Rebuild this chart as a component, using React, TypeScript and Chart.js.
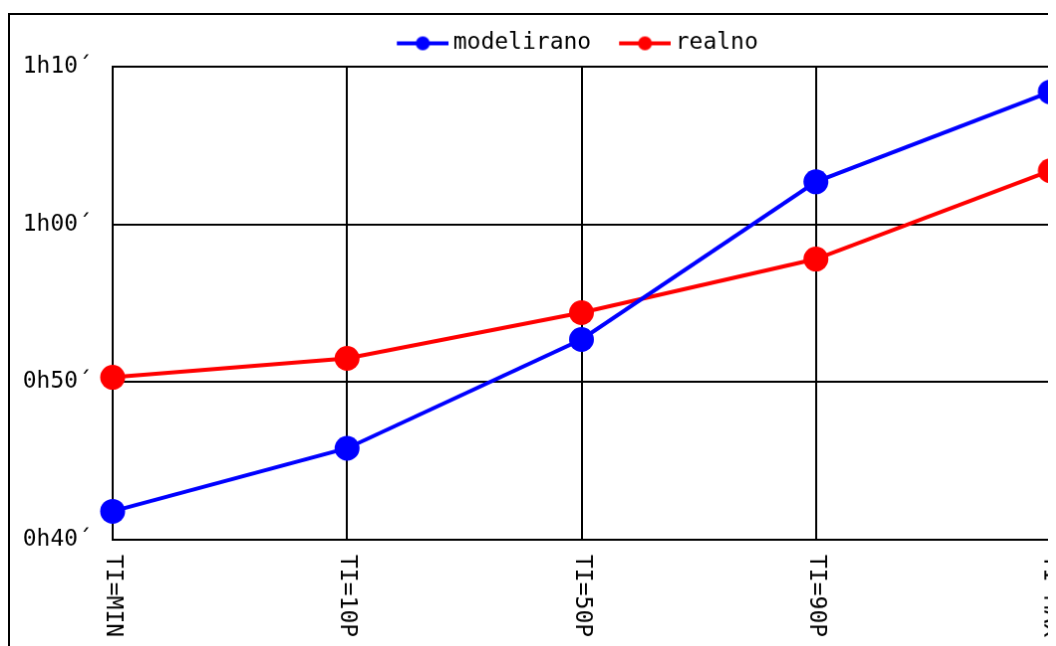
import React, { useEffect, useRef } from "react";
import { Chart, registerables } from "chart.js";
Chart.register(...registerables);

const categories = ["TI=MIN", "TI=10P", "TI=50P", "TI=90P", "TI=MAX"];
const modelirano = [41.8, 45.8, 52.7, 62.7, 68.4];
const realno = [50.3, 51.5, 54.4, 57.8, 63.4];
const yMin = 40;
const yMax = 70;
const yStep = 10;

const FONT = "'DejaVu Sans Mono', monospace";
const FONT_SIZE = 23;
const ICON_BOX = 56;

function fmtMinutes(m: number): string {
  const h = Math.floor(m / 60);
  const mm = Math.round(m % 60);
  return `${h}h${String(mm).padStart(2, "0")}\u00B4`;
}

function legendIcon(color: string): HTMLCanvasElement {
  const w = ICON_BOX + 14;
  const c = document.createElement("canvas");
  c.width = w;
  c.height = 26;
  const ctx = c.getContext("2d")!;
  const x0 = w - 52;
  ctx.strokeStyle = color;
  ctx.lineWidth = 4;
  ctx.beginPath();
  ctx.moveTo(x0, 13);
  ctx.lineTo(w, 13);
  ctx.stroke();
  ctx.fillStyle = color;
  ctx.beginPath();
  ctx.arc(x0 + 26, 13, 7, 0, Math.PI * 2);
  ctx.fill();
  return c;
}

const legendGapPlugin = {
  id: "legendGap",
  beforeInit(chart: any) {
    const legend = chart.legend;
    if (!legend) return;
    const origFit = legend.fit;
    legend.fit = function () {
      origFit.call(this);
      this.height += 2;
    };
  },
};

const xLabelPlugin = {
  id: "xLabelsRotated",
  afterDraw(chart: any) {
    const { ctx, chartArea } = chart;
    const x = chart.scales.x;
    const labels = chart.data.labels as string[];
    ctx.save();
    ctx.font = `${FONT_SIZE}px ${FONT}`;
    ctx.fillStyle = "#000";
    ctx.textAlign = "left";
    ctx.textBaseline = "middle";
    labels.forEach((lab, i) => {
      const px = x.getPixelForValue(i);
      ctx.save();
      ctx.translate(px, chartArea.bottom + 15);
      ctx.rotate(Math.PI / 2);
      ctx.fillText(lab, 0, 0);
      ctx.restore();
    });
    ctx.restore();
  },
};

export default function App() {
  const ref = useRef<HTMLCanvasElement>(null);
  useEffect(() => {
    if (!ref.current) return;
    const colors = ["#0000ff", "#ff0000"];
    const chart = new Chart(ref.current, {
      type: "line",
      data: {
        labels: categories,
        datasets: [
          {
            label: "modelirano",
            data: modelirano,
            borderColor: colors[0],
            backgroundColor: colors[0],
            borderWidth: 4,
            pointRadius: 12.5,
            pointHoverRadius: 12.5,
            pointBorderWidth: 0,
            tension: 0,
            clip: false as any,
          },
          {
            label: "realno",
            data: realno,
            borderColor: colors[1],
            backgroundColor: colors[1],
            borderWidth: 4,
            pointRadius: 12.5,
            pointHoverRadius: 12.5,
            pointBorderWidth: 0,
            tension: 0,
            clip: false as any,
          },
        ],
      },
      options: {
        responsive: false,
        animation: false,
        devicePixelRatio: 1,
        layout: { autoPadding: false, padding: { left: 0, right: 0, top: 0, bottom: 112 } },
        plugins: {
          tooltip: { enabled: false },
          legend: {
            position: "top",
            labels: {
              font: { family: FONT, size: FONT_SIZE },
              color: "#000",
              usePointStyle: true,
              pointStyleWidth: ICON_BOX,
              padding: 17,
              generateLabels: (ch: any) =>
                ch.data.datasets.map((ds: any, i: number) => ({
                  text: ds.label,
                  pointStyle: legendIcon(colors[i]),
                  fillStyle: colors[i],
                  strokeStyle: colors[i],
                  lineWidth: 0,
                  hidden: false,
                  datasetIndex: i,
                  fontColor: "#000",
                })),
            },
          },
        },
        scales: {
          x: {
            type: "category",
            offset: false,
            grid: { color: "#000", lineWidth: 2, drawTicks: false },
            border: { color: "#000", width: 2 },
            ticks: { display: false },
          },
          y: {
            min: yMin,
            max: yMax,
            grid: { color: "#000", lineWidth: 2, drawTicks: false },
            border: { color: "#000", width: 2 },
            ticks: {
              stepSize: yStep,
              padding: 21,
              color: "#000",
              font: { family: FONT, size: FONT_SIZE },
              callback: (v: any) => fmtMinutes(Number(v)),
            },
            afterFit: (scale: any) => {
              scale.width = 103;
            },
          },
          yRight: {
            position: "right",
            min: yMin,
            max: yMax,
            grid: { display: false, drawTicks: false },
            border: { display: false },
            ticks: { display: false },
            afterFit: (scale: any) => {
              scale.width = 84;
            },
          },
        },
      },
      plugins: [xLabelPlugin, legendGapPlugin],
    });
    return () => chart.destroy();
  }, []);
  return (
    <div>
      <canvas
        ref={ref}
        width={1128}
        height={640}
        style={{ display: "block", marginTop: 5, border: "2px solid #000" }}
      />
    </div>
  );
}
